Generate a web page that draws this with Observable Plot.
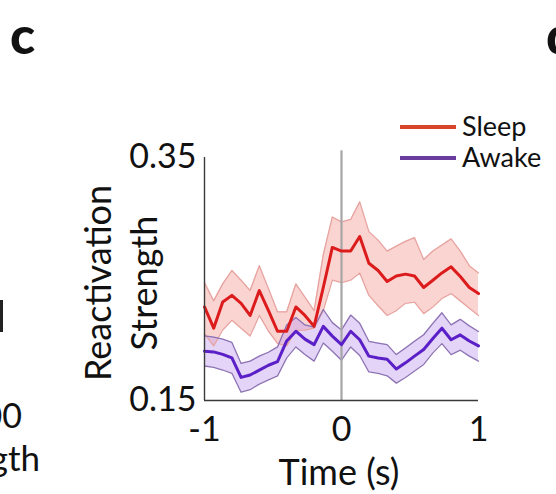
<!DOCTYPE html>
<html><head><meta charset="utf-8">
<script src="https://cdn.jsdelivr.net/npm/d3@7"></script>
<script src="https://cdn.jsdelivr.net/npm/@observablehq/plot@0.6"></script>
<style>
html,body{margin:0;padding:0;background:#fff;}
#wrap{position:relative;width:556px;height:494px;overflow:hidden;font-family:Lato,"Open Sans",sans-serif;color:#111;}
.t{position:absolute;white-space:nowrap;line-height:1;}
#chart{position:absolute;left:0;top:0;}
</style></head>
<body><div id="wrap"><div id="chart"></div></div>
<script>
const time = [-1, -0.933, -0.867, -0.8, -0.733, -0.667, -0.6, -0.533, -0.467, -0.4, -0.333, -0.267, -0.2, -0.133, -0.067, 0, 0.067, 0.133, 0.2, 0.267, 0.333, 0.4, 0.467, 0.533, 0.6, 0.667, 0.733, 0.8, 0.867, 0.933, 1];
const sleepMean  = [0.227, 0.2095, 0.231, 0.2365, 0.230, 0.220, 0.2405, 0.224, 0.207, 0.207, 0.227, 0.220, 0.211, 0.243, 0.276, 0.273, 0.273, 0.285, 0.263, 0.257, 0.248, 0.2525, 0.254, 0.2525, 0.243, 0.249, 0.255, 0.260, 0.252, 0.243, 0.238];
const sleepUpper = [0.247, 0.232, 0.246, 0.257, 0.249, 0.2405, 0.261, 0.242, 0.223, 0.223, 0.246, 0.235, 0.224, 0.270, 0.301, 0.297, 0.299, 0.3135, 0.289, 0.282, 0.273, 0.277, 0.281, 0.284, 0.266, 0.273, 0.278, 0.283, 0.273, 0.261, 0.255];
const sleepLower = [0.205, 0.195, 0.208, 0.216, 0.2095, 0.203, 0.220, 0.207, 0.197, 0.195, 0.208, 0.208, 0.2095, 0.224, 0.249, 0.247, 0.249, 0.255, 0.2365, 0.228, 0.220, 0.224, 0.230, 0.231, 0.2215, 0.227, 0.234, 0.238, 0.232, 0.226, 0.220];
const awakeMean  = [0.1905, 0.190, 0.188, 0.185, 0.169, 0.171, 0.175, 0.179, 0.182, 0.199, 0.207, 0.2005, 0.196, 0.211, 0.203, 0.196, 0.207, 0.200, 0.1865, 0.185, 0.184, 0.176, 0.181, 0.1865, 0.192, 0.201, 0.2095, 0.200, 0.204, 0.199, 0.195];
const awakeUpper = [0.2032, 0.2022, 0.2005, 0.1978, 0.1805, 0.1824, 0.1865, 0.1897, 0.1941, 0.2122, 0.2184, 0.2122, 0.2103, 0.2249, 0.2141, 0.2081, 0.2203, 0.2135, 0.1987, 0.1973, 0.196, 0.1878, 0.1932, 0.1987, 0.2041, 0.2135, 0.2222, 0.2122, 0.2168, 0.2114, 0.2068];
const awakeLower = [0.1784, 0.1773, 0.1751, 0.1724, 0.1568, 0.1589, 0.1635, 0.167, 0.1703, 0.1851, 0.1941, 0.1878, 0.1824, 0.1973, 0.1905, 0.1832, 0.1941, 0.187, 0.1735, 0.1724, 0.1703, 0.1643, 0.1689, 0.1743, 0.1797, 0.1892, 0.1968, 0.1878, 0.1914, 0.1865, 0.1824];
const xTicks = [-1, 0, 1];
const yTicks = [0.15, 0.35];
const seriesNames = ["Sleep", "Awake"];
const xLabel = "Time (s)";
const yLabel = ["Reactivation", "Strength"];

const rows = time.map((t, i) => ({t, sm: sleepMean[i], su: sleepUpper[i], sl: sleepLower[i], am: awakeMean[i], au: awakeUpper[i], al: awakeLower[i]}));

const chart = Plot.plot({
  width: 556, height: 494,
  marginLeft: 204, marginRight: 78, marginTop: 157, marginBottom: 94,
  x: {domain: [-1, 1]},
  y: {domain: [0.15, 0.35]},
  style: {fontFamily: "Lato, 'Open Sans', sans-serif", fontSize: "34px", color: "#111", background: "transparent", overflow: "visible"},
  marks: [
    Plot.areaY(rows, {x: "t", y1: "sl", y2: "su", fill: "#f5aaa4", fillOpacity: 0.5}),
    Plot.areaY(rows, {x: "t", y1: "al", y2: "au", fill: "#c4a0ee", fillOpacity: 0.45}),
    Plot.lineY(rows, {x: "t", y: "su", stroke: "#e7a3a0", strokeWidth: 1.3}),
    Plot.lineY(rows, {x: "t", y: "sl", stroke: "#e7a3a0", strokeWidth: 1.3}),
    Plot.lineY(rows, {x: "t", y: "au", stroke: "#8d72b4", strokeWidth: 1.3}),
    Plot.lineY(rows, {x: "t", y: "al", stroke: "#8d72b4", strokeWidth: 1.3}),
    Plot.ruleX([0], {y1: 0.15, y2: 0.3555, stroke: "#a6a6a6", strokeWidth: 2.2, clip: false}),
    Plot.lineY(rows, {x: "t", y: "am", stroke: "#5a1fc6", strokeWidth: 3}),
    Plot.lineY(rows, {x: "t", y: "sm", stroke: "#dc1c1c", strokeWidth: 3}),
    Plot.ruleX([-1], {stroke: "#3a3a3a", strokeWidth: 1.4}),
    Plot.ruleY([0.15], {stroke: "#3a3a3a", strokeWidth: 1.4}),
    Plot.axisX({ticks: xTicks, tickSize: 0, tickPadding: 16, tickFormat: d => String(d), label: null}),
    Plot.axisY({ticks: yTicks, tickSize: 0, tickPadding: 8, tickFormat: d => d.toFixed(2), label: null})
  ]
});
document.getElementById("chart").appendChild(chart);

const wrap = document.getElementById("wrap");
function addText(txt, css) {
  const d = document.createElement("div");
  d.className = "t";
  d.textContent = txt;
  Object.assign(d.style, css);
  wrap.appendChild(d);
  return d;
}
// panel letters
addText("c", {left: "10px", top: "8px", fontSize: "52px", fontWeight: "900"});
addText("d", {left: "546px", top: "8px", fontSize: "52px", fontWeight: "900"});
// fragments of neighbouring panel
addText("200", {right: "534px", top: "398px", fontSize: "34px", textAlign: "right"});
addText("Strength", {right: "516px", top: "440px", fontSize: "35px", textAlign: "right"});
const bar = document.createElement("div");
Object.assign(bar.style, {position: "absolute", left: "0px", top: "300px", width: "3px", height: "32px", background: "#222"});
wrap.appendChild(bar);
// x label
addText(xLabel, {left: "339px", top: "453px", fontSize: "36px", transform: "translateX(-50%)"});
// y label
const yl = document.createElement("div");
yl.className = "t";
Object.assign(yl.style, {left: "20px", top: "237px", width: "200px", textAlign: "center", fontSize: "36px", lineHeight: "46px", transform: "rotate(-90deg)", transformOrigin: "100px 46px"});
yl.innerHTML = yLabel.join("<br>");
wrap.appendChild(yl);
// legend
const legColors = ["#d8432c", "#6b3ca0"];
seriesNames.forEach((name, i) => {
  const y = 127 + i * 31;
  const ln = document.createElement("div");
  Object.assign(ln.style, {position: "absolute", left: "400px", top: (y - 2) + "px", width: "56px", height: "4px", background: legColors[i]});
  wrap.appendChild(ln);
  addText(name, {left: "462px", top: (y - 15) + "px", fontSize: "27px"});
});
</script>
</body></html>
